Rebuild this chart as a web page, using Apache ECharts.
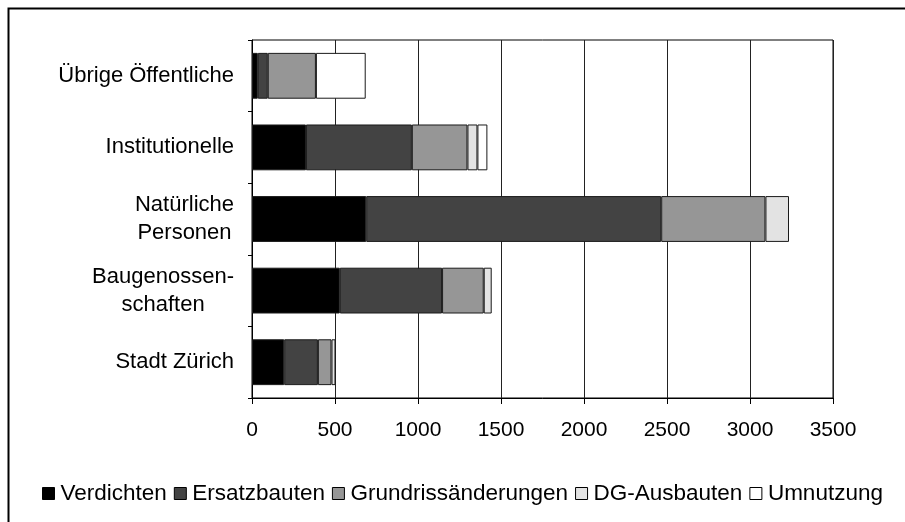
<!DOCTYPE html>
<html>
<head>
<meta charset="utf-8">
<script src="https://cdn.jsdelivr.net/npm/echarts@6/dist/echarts.min.js"></script>
<style>
  html, body { margin: 0; padding: 0; background: #fff; }
  #chart { width: 905px; height: 522px; }
</style>
</head>
<body>
<div id="chart"></div>
<script>
// Owner groups, top to bottom
const categories = [
  'Übrige Öffentliche',
  'Institutionelle',
  'Natürliche\nPersonen',
  'Baugenossen-\nschaften',
  'Stadt Zürich'
];

// Dwelling units by type of construction activity ('-' = none)
const verdichten           = [35, 325, 688, 529, 194];
const ersatzbauten         = [60, 638, 1777, 616, 203];
const grundrissaenderungen = [290, 335, 628, 251, 82];
const dgAusbauten          = ['-', 60, 142, 48, 24];
const umnutzung            = [300, 60, '-', '-', '-'];

const seriesNames = ['Verdichten', 'Ersatzbauten', 'Grundrissänderungen', 'DG-Ausbauten', 'Umnutzung'];
const seriesColors = ['#000000', '#434343', '#969696', '#e3e3e3', '#ffffff'];
const seriesData = [verdichten, ersatzbauten, grundrissaenderungen, dgAusbauten, umnutzung];

const xTicks = { min: 0, max: 3500, step: 500 };

const FONT = '"Liberation Sans", Arial, sans-serif';

const chart = echarts.init(document.getElementById('chart'), null, { renderer: 'canvas' });

chart.setOption({
  animation: false,
  backgroundColor: '#ffffff',
  textStyle: { fontFamily: FONT, color: '#000' },
  graphic: [{
    type: 'rect',
    left: 6, top: 6,
    shape: { x: 0, y: 0, width: 1000, height: 1000 },
    style: { fill: 'none', stroke: '#000', lineWidth: 2 },
    silent: true,
    z: 100
  }],
  grid: {
    left: 252, right: 72, top: 40, bottom: 124,
    show: true, borderColor: '#000', borderWidth: 1,
    backgroundColor: 'transparent'
  },
  legend: {
    left: 37, top: 477,
    itemWidth: 12, itemHeight: 12, itemGap: 7,
    icon: 'rect',
    textStyle: { fontFamily: FONT, fontSize: 22.5, color: '#000', padding: [0, 0, 0, 1] },
    itemStyle: { borderColor: '#000', borderWidth: 1 },
    data: seriesNames
  },
  xAxis: {
    type: 'value',
    min: xTicks.min, max: xTicks.max, interval: xTicks.step,
    axisLine: { show: true, lineStyle: { color: '#000', width: 1 } },
    axisTick: { show: true, length: 6, lineStyle: { color: '#000' } },
    axisLabel: {
      fontFamily: FONT, fontSize: 21, color: '#000', margin: 22,
      formatter: v => String(v)
    },
    splitLine: { show: true, lineStyle: { color: '#222', width: 1 } }
  },
  yAxis: {
    type: 'category',
    inverse: true,
    data: categories,
    axisLine: { show: true, lineStyle: { color: '#000', width: 1 } },
    axisTick: { show: true, length: 4, alignWithLabel: false, lineStyle: { color: '#000' } },
    axisLabel: {
      margin: 18,
      fontFamily: FONT, fontSize: 22, color: '#000',
      lineHeight: 28,
      formatter: v => v.split('\n').map(l => '{c|' + l + '}').join('\n'),
      rich: { c: { align: 'center', fontFamily: FONT, fontSize: 22, lineHeight: 28, color: '#000' } }
    }
  },
  series: seriesNames.map((name, i) => ({
    name,
    type: 'bar',
    stack: 'total',
    barCategoryGap: '36%',
    data: seriesData[i],
    itemStyle: { color: seriesColors[i], borderColor: '#1a1a1a', borderWidth: 1 }
  }))
});
</script>
</body>
</html>
